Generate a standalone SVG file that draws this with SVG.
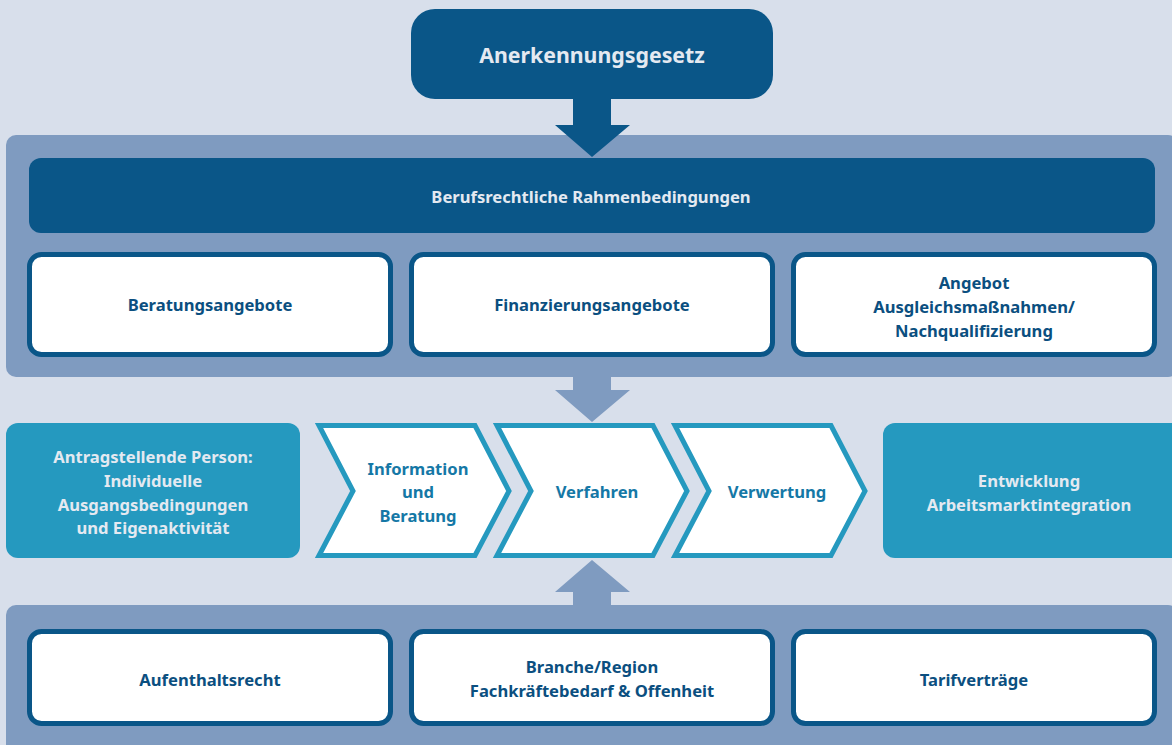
<svg xmlns="http://www.w3.org/2000/svg" width="1172" height="745" viewBox="0 0 1172 745">
<style>
.t{font-family:"Noto Sans","Open Sans",sans-serif;font-weight:bold;text-anchor:middle;font-size:16.6px}
.lt{fill:#e4e9f1}
.db{fill:#0b4f80}
.tc{fill:#1578a6}
.wb{fill:#ffffff;stroke:#0a5688;stroke-width:5}
.ch{fill:#ffffff;stroke:#2599bf;stroke-width:5}
.teal{fill:#2599bf}
.panel{fill:#7f9bc0}
</style>
<rect width="1172" height="745" fill="#d8dfeb"/>
<g id="panels">
<rect class="panel" x="6" y="135" width="1172" height="242" rx="10"/>
<rect class="panel" x="6" y="605" width="1172" height="150" rx="10"/>
</g>
<g id="connectors">
<polygon fill="#0a5688" points="573,98 611,98 611,125 630,125 592,157 555,125 573,125"/>
<polygon fill="#7f9bc0" points="573,377 611,377 611,390 630,390 592,422 555,390 573,390"/>
<polygon fill="#7f9bc0" points="573,606 611,606 611,592 630,592 592,560 555,592 573,592"/>
</g>
<g id="anerkennungsgesetz">
<rect x="411" y="9" width="362" height="90" rx="24" fill="#0a5688"/>
<text class="t lt" x="592" y="63" style="font-size:21.3px">Anerkennungsgesetz</text>
</g>
<g id="berufsrecht">
<rect x="29" y="158" width="1126" height="75" rx="12" fill="#0a5688"/>
<text class="t lt" x="591" y="203">Berufsrechtliche Rahmenbedingungen</text>
</g>
<g id="beratungsangebote">
<rect class="wb" x="29.500" y="254.500" width="361" height="100" rx="12"/>
<text class="t db" x="210" y="311">Beratungsangebote</text>
</g>
<g id="finanzierungsangebote">
<rect class="wb" x="411.500" y="254.500" width="361" height="100" rx="12"/>
<text class="t db" x="592" y="311">Finanzierungsangebote</text>
</g>
<g id="ausgleich">
<rect class="wb" x="793.500" y="254.500" width="361" height="100" rx="12"/>
<text class="t db" x="974" y="289">Angebot</text>
<text class="t db" x="974" y="313">Ausgleichsmaßnahmen/</text>
<text class="t db" x="974" y="337">Nachqualifizierung</text>
</g>
<g id="antragstellende">
<rect class="teal" x="6" y="423" width="294" height="135" rx="12"/>
<text class="t lt" x="153" y="463">Antragstellende Person:</text>
<text class="t lt" x="153" y="487">Individuelle</text>
<text class="t lt" x="153" y="511">Ausgangsbedingungen</text>
<text class="t lt" x="153" y="534">und Eigenaktivität</text>
</g>
<g id="information">
<polygon class="ch" points="319,425.500 475,425.500 509,491 475,555.500 319,555.500 353,491"/>
<text class="t tc" x="418" y="475">Information</text>
<text class="t tc" x="418" y="498">und</text>
<text class="t tc" x="418" y="522">Beratung</text>
</g>
<g id="verfahren">
<polygon class="ch" points="497,425.500 653,425.500 687,491 653,555.500 497,555.500 531,491"/>
<text class="t tc" x="597" y="498">Verfahren</text>
</g>
<g id="verwertung">
<polygon class="ch" points="675,425.500 831,425.500 865,491 831,555.500 675,555.500 709,491"/>
<text class="t tc" x="777" y="498">Verwertung</text>
</g>
<g id="entwicklung">
<rect class="teal" x="883" y="423" width="300" height="135" rx="12"/>
<text class="t lt" x="1029" y="487">Entwicklung</text>
<text class="t lt" x="1029" y="511">Arbeitsmarktintegration</text>
</g>
<g id="aufenthaltsrecht">
<rect class="wb" x="29.500" y="631.500" width="361" height="92" rx="12"/>
<text class="t db" x="210" y="686">Aufenthaltsrecht</text>
</g>
<g id="branche">
<rect class="wb" x="411.500" y="631.500" width="361" height="92" rx="12"/>
<text class="t db" x="592" y="673">Branche/Region</text>
<text class="t db" x="592" y="697">Fachkräftebedarf &amp; Offenheit</text>
</g>
<g id="tarifvertraege">
<rect class="wb" x="793.500" y="631.500" width="361" height="92" rx="12"/>
<text class="t db" x="974" y="686">Tarifverträge</text>
</g>
</svg>
